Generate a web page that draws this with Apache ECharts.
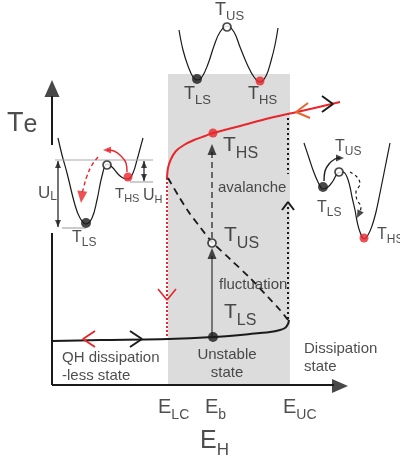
<!DOCTYPE html>
<html><head><meta charset="utf-8">
<script src="https://cdn.jsdelivr.net/npm/echarts@6/dist/echarts.min.js"></script>
<style>html,body{margin:0;padding:0;background:#fff}#c{width:400px;height:459px}</style>
</head><body><div id="c"></div>
<script>
// Schematic of electron temperature Te versus Hall field EH (bistable QH breakdown).
// Coordinates are in drawing units: x to the right, y downward.

// ---- axis lines ----
const yAxisUpper = [[52, 96], [52, 145]];
const yAxisLower = [[52, 233], [52, 385]];
const xAxisLine = [[52, 385], [334, 385]];

// ---- unstable band between E_LC and E_UC ----
const unstableBand = [[168, 74], [290, 385]];

// ---- branches of Te(EH) ----
const highBranch = [[167,178],[168,168],[171,159],[176,151],[184,145],[194,140],[205,136],[213,133],[240,126],[270,118],[297,112],[340,102]];
const lowBranch = [[52,341],[100,340],[168,339],[213,337],[250,334],[270,332],[280,330],[285,328],[288,324],[289,320]];
const unstableBranch = [[168,178],[178,195],[188,211],[200,227],[212,242],[230,259],[250,278],[268,297],[280,310],[288,320]];
const lowerCritical = [[167,178],[167,341]];
const upperCriticalTop = [[288,113],[288,174]];
const upperCriticalBottom = [[288,207],[288,322]];

// ---- potential wells ----
const topWell = [[179,30],[183,50],[188,66],[193,77],[197,80],[202,77],[208,64],[214,46],[220,32],[227,26],[234,32],[240,47],[247,64],[254,77],[260,82],[266,76],[271,61],[275,45],[278,28]];
const leftWell = [[58,138],[62,155],[67,173],[75,205],[80,218],[86,224],[92,218],[97,200],[102,176],[107,164],[112,167],[118,174],[123,178],[128,179],[133,173],[137,160],[140,149],[143,138]];
const rightWell = [[304,143],[309,158],[313,170],[318,182],[323,189],[328,187],[333,181],[338,173],[343,172],[347,177],[350,187],[352,197],[355,210],[357,221],[360,232],[364,239],[368,235],[372,226],[376,212],[380,193],[385,168],[390,143]];

// ---- barrier reference levels in the left well ----
const levelTop = [[55,160],[153,160]];
const levelHS = [[130,182],[153,182]];
const levelLS = [[62,228],[86,228]];
const barrierUL = [[58,161],[58,227]];
const barrierUH = [[144,161],[144,181]];

// ---- states ----
const lowStates = [[197,79],[86,223],[323,187],[213,337]];
const highStates = [[260,81],[128,177],[364,238],[213,133]];
const unstableStates = [[227,27],[107,165],[339,172],[212,243]];

// ---- transitions ----
const fluctuationPath = [[212,337],[212,256]];
const avalanchePath = [[212,238],[212,152]];
const escapeHS = [[127,172],[126,163],[121,156],[114,151],[107,150]];
const relaxLS = [[98,157],[92,165],[87,176],[84,186],[82,194]];
const escapeLS = [[324,181],[325,171],[329,164],[335,159],[340,158]];
const relaxHS = [[350,172],[357,177],[360,184],[356,192],[357,200],[361,207],[360,212]];

// ---- sweep direction marks ----
const sweepDownLow = [[95,331],[83,339],[95,347]];
const sweepUpLow = [[130,331],[142,339],[130,347]];
const sweepDownCrit = [[158,289],[167,300],[176,289]];
const sweepUpCrit = [[282,210],[288,202],[294,210]];
const sweepDownHigh = [[308,103],[296,112],[310,118]];
const sweepUpHigh = [[322,96],[333,104],[322,112]];

// ---- texts ----
const tickLabels = [['E', 'LC'], ['E', 'b'], ['E', 'UC']];
const axisTitleX = ['E', 'H'];
const axisTitleY = ['T', 'e'];

const RED = '#e8262b', INK = '#1a1a1a', TXT = '#222222', FONT = 'Liberation Sans, Arial, sans-serif';

const series = [];
function line(data, style, extra) {
  series.push(Object.assign({
    type: 'line', data, showSymbol: false, silent: true, z: 3,
    lineStyle: Object.assign({ color: INK, width: 1.5 }, style)
  }, extra || {}));
}
function arrowHead(path, color, w, h, atStart) {
  const n = path.length;
  const tip = atStart ? path[0] : path[n - 1];
  const prev = atStart ? path[1] : path[n - 2];
  let dx = tip[0] - prev[0], dy = tip[1] - prev[1];
  const L = Math.hypot(dx, dy); dx /= L; dy /= L;
  const rot = Math.atan2(-dx, -dy) * 180 / Math.PI;
  series.push({
    type: 'scatter', silent: true, z: 4,
    data: [[tip[0] - dx * h / 2, tip[1] - dy * h / 2]],
    symbol: 'triangle', symbolSize: [w, h], symbolRotate: rot,
    itemStyle: { color }
  });
}
function dots(data, color, size, hollow) {
  series.push({
    type: 'scatter', silent: true, z: 5, data, symbolSize: size,
    itemStyle: hollow ? { color: '#fff', borderColor: INK, borderWidth: 1.7 } : { color }
  });
}

// band
series.push({
  type: 'line', data: [], silent: true, z: 0,
  markArea: { silent: true, itemStyle: { color: '#dcdcdc' },
    data: [[{ coord: unstableBand[0] }, { coord: unstableBand[1] }]] }
});

// axes
line(yAxisUpper, { width: 2 });
line(yAxisLower, { width: 2 });
line(xAxisLine, { width: 2 });
arrowHead([[52, 120], [52, 80]], INK, 15, 17);
arrowHead([[300, 386], [348, 386]], INK, 14, 16);

// branches
line(lowerCritical, { color: RED, width: 2, type: [2, 2] });
line(upperCriticalTop, { width: 2, type: [2, 3] });
line(upperCriticalBottom, { width: 2, type: [2, 3] });
line(unstableBranch, { width: 1.8, type: [7, 5] }, { smooth: 0.3 });
line(lowBranch, { width: 2 }, { smooth: 0.3 });
line(highBranch, { color: RED, width: 2 }, { smooth: 0.3 });

// wells
line(topWell, { width: 1.2 }, { smooth: 0.4 });
line(leftWell, { width: 1.2 }, { smooth: 0.4 });
line(rightWell, { width: 1.2 }, { smooth: 0.4 });
line(levelTop, { color: '#aaaaaa', width: 1.2 });
line(levelHS, { color: '#aaaaaa', width: 1.2 });
line(levelLS, { color: '#aaaaaa', width: 1.2 });
line(barrierUL, { width: 1.2 });
line(barrierUH, { width: 1.2 });
arrowHead(barrierUL, INK, 6, 7, true); arrowHead(barrierUL, INK, 6, 7);
arrowHead(barrierUH, INK, 6, 7, true); arrowHead(barrierUH, INK, 6, 7);

// transitions
line(fluctuationPath, { color: '#4a4a4a', width: 1.4 });
arrowHead([[212, 270], [212, 248]], INK, 9, 11);
line(avalanchePath, { width: 1.2, type: [6, 4] });
arrowHead([[212, 170], [212, 144]], INK, 9, 11);
line(escapeHS, { color: RED, width: 1.4 }, { smooth: 0.4 });
arrowHead(escapeHS.concat([[103, 150]]), RED, 7, 8);
line(relaxLS, { color: RED, width: 1.4, type: [4, 3] }, { smooth: 0.4 });
arrowHead(relaxLS.concat([[81, 203]]), RED, 10, 12);
line(escapeLS, { width: 1.4 }, { smooth: 0.4 });
arrowHead(escapeLS.concat([[344, 158]]), INK, 7, 8);
line(relaxHS, { width: 1.2, type: [3, 3] }, { smooth: 0.4 });
arrowHead(relaxHS.concat([[357, 218]]), INK, 7, 8);

// sweep marks
line(sweepDownLow, { color: RED, width: 2 });
line(sweepUpLow, { width: 2 });
line(sweepDownCrit, { color: RED, width: 1.6 });
line(sweepUpCrit, { width: 2 });
line(sweepDownHigh, { color: '#e8642e', width: 2 });
line(sweepUpHigh, { width: 2 });

// states
dots(lowStates, INK, 10);
dots(highStates, RED, 9);
dots(unstableStates, INK, 8, true);

// text
function sub(pair, F, f, drop) {
  return {
    formatter: '{m|' + pair[0] + '}{s|' + pair[1] + '}',
    rich: {
      m: { fontSize: F, lineHeight: F, fontFamily: FONT, color: TXT, verticalAlign: 'bottom', padding: [0, 0, drop, 0] },
      s: { fontSize: f, lineHeight: f, fontFamily: FONT, color: TXT, verticalAlign: 'bottom' }
    }
  };
}
const texts = [];
function text(x, y, label, align) {
  texts.push({ value: [x, y], label: Object.assign({ show: true, align: align || 'left' }, label) });
}
function plain(str, size, extra) {
  return Object.assign({ formatter: str, fontSize: size, fontFamily: FONT, color: TXT, lineHeight: size + 3 }, extra || {});
}
text(7, 124, sub(axisTitleY, 27, 25, 0));
text(200, 446, sub(axisTitleX, 25, 17, 5));
text(158, 412, sub(tickLabels[0], 20, 14, 5));
text(205, 412, sub(tickLabels[1], 20, 14, 5));
text(283, 412, sub(tickLabels[2], 20, 14, 5));

text(215, 14, sub(['T', 'US'], 18, 13, 4));
text(184, 98, sub(['T', 'LS'], 18, 13, 4));
text(248, 98, sub(['T', 'HS'], 18, 13, 4));

text(223, 151, sub(['T', 'HS'], 21, 16, 6));
text(224, 241, sub(['T', 'US'], 21, 16, 6));
text(224, 318, sub(['T', 'LS'], 21, 16, 6));

text(38, 194, sub(['U', 'L'], 17, 12, 1));
text(143, 197, sub(['U', 'H'], 16, 11, 1));
text(115, 197, sub(['T', 'HS'], 15, 11, 3));
text(72, 241, sub(['T', 'LS'], 16, 12, 3));

text(335, 150, sub(['T', 'US'], 16, 12, 3));
text(317, 211, sub(['T', 'LS'], 16, 12, 3));
text(377, 238, sub(['T', 'HS'], 16, 12, 3));

text(217, 188, plain('avalanche', 15, { backgroundColor: '#dcdcdc', padding: [1, 1, 1, 1] }));
text(219, 285, plain('fluctuation', 15));
text(227, 364, plain('Unstable\nstate', 15, { lineHeight: 18 }), 'center');
text(62, 367, plain('QH dissipation\n-less state', 15, { lineHeight: 18 }));
text(304, 358, plain('Dissipation\nstate', 15, { lineHeight: 18 }));

series.push({
  type: 'scatter', silent: true, z: 6, data: texts, symbolSize: 1,
  itemStyle: { color: 'rgba(0,0,0,0)' },
  labelLayout: { hideOverlap: false },
  label: { show: true, position: 'inside', verticalAlign: 'middle' }
});

const chart = echarts.init(document.getElementById('c'), null, { renderer: 'canvas' });
chart.setOption({
  animation: false,
  backgroundColor: '#ffffff',
  grid: { left: 0, right: 0, top: 0, bottom: 0 },
  xAxis: { type: 'value', min: 0, max: 400, show: false },
  yAxis: { type: 'value', min: 0, max: 459, inverse: true, show: false },
  series
});
</script>
</body></html>
